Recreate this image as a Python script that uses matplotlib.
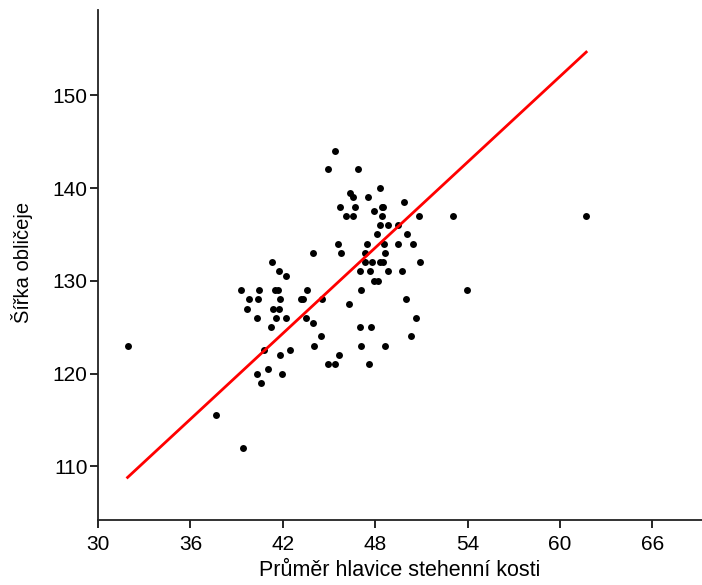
import numpy as np
import matplotlib
matplotlib.use("Agg")
import matplotlib.pyplot as plt

plt.rcParams['font.family'] = ['Liberation Sans', 'DejaVu Sans']
plt.rcParams['font.size'] = 14

# průměr hlavice stehenní kosti (x) a šířka obličeje (y)
femur = [31.92, 37.65, 39.43, 39.28, 40.47, 41.5, 41.66, 43.6, 39.82, 40.4,
         41.82, 43.21, 43.34, 44.53, 46.32, 39.69, 41.34, 41.77, 40.32, 41.56,
         42.23, 43.49, 43.97, 41.23, 44.47, 40.75, 44.04, 42.49, 41.79, 45.67,
         44.95, 45.36, 41.04, 40.32, 41.92, 40.6, 45.58, 43.97, 45.77, 41.32,
         41.73, 42.23,
         45.36, 44.95, 46.91, 48.28, 46.36, 46.56, 47.53, 49.84, 45.73, 46.71,
         48.41, 48.51, 47.93, 46.13, 46.54, 48.41, 50.82, 48.32, 48.84, 49.45,
         48.12, 50.08, 47.49, 48.56, 49.47, 50.47, 47.36, 48.62, 47.36, 47.78,
         48.32, 48.51, 50.91, 47.04, 47.66, 48.84, 49.73, 47.89, 48.19,
         47.1, 49.99, 47.04, 47.71, 50.67, 50.3, 47.08, 48.62, 47.58,
         53.03, 53.97, 61.7]
face = [123, 115.5, 112, 129, 129, 129, 129, 129, 128, 128,
        128, 128, 128, 128, 127.5, 127, 127, 127, 126, 126,
        126, 126, 125.5, 125, 124, 122.5, 123, 122.5, 122, 122,
        121, 121, 120.5, 120, 120, 119, 134, 133, 133, 132,
        131, 130.5,
        144, 142, 142, 140, 139.5, 139, 139, 138.5, 138, 138,
        138, 138, 137.5, 137, 137, 137, 137, 136, 136, 136,
        135, 135, 134, 134, 134, 134, 133, 133, 132, 132,
        132, 132, 132, 131, 131, 131, 131, 130, 130,
        129, 128, 125, 125, 126, 124, 123, 123, 121,
        137, 129, 137]

# přímka z grafu (odečteno)
fit_slope = 1.54
fit_intercept = 59.64

x = np.array(femur)
y = np.array(face)

fig = plt.figure(figsize=(7.02, 5.85), dpi=100)
ax = fig.add_axes([0.1396, 0.111, 0.86, 0.872])

ax.scatter(x, y, s=25, color='black', zorder=3, linewidths=0)
xx = np.array([x.min(), x.max()])
ax.plot(xx, fit_intercept + fit_slope * xx, color='red', lw=2.0, zorder=4)

ax.set_xlim(30, 69.2)
ax.set_ylim(104.2, 159.2)
ax.set_xticks([30, 36, 42, 48, 54, 60, 66])
ax.set_yticks([110, 120, 130, 140, 150])
ax.spines['top'].set_visible(False)
ax.spines['right'].set_visible(False)
for s in ['left', 'bottom']:
    ax.spines[s].set_linewidth(1.3)
    ax.spines[s].set_color('#222222')
ax.tick_params(direction='out', length=6, width=1.2, labelsize=15)
ax.tick_params(axis='x', pad=5)
ax.tick_params(axis='y', pad=1.5)
ax.set_xlabel("Průměr hlavice stehenní kosti", fontsize=15.5, labelpad=4)
ax.set_ylabel("Šířka obličeje", fontsize=14.5)
ax.yaxis.set_label_coords(-0.108, 0.506)

fig.savefig("out.png", dpi=100)
